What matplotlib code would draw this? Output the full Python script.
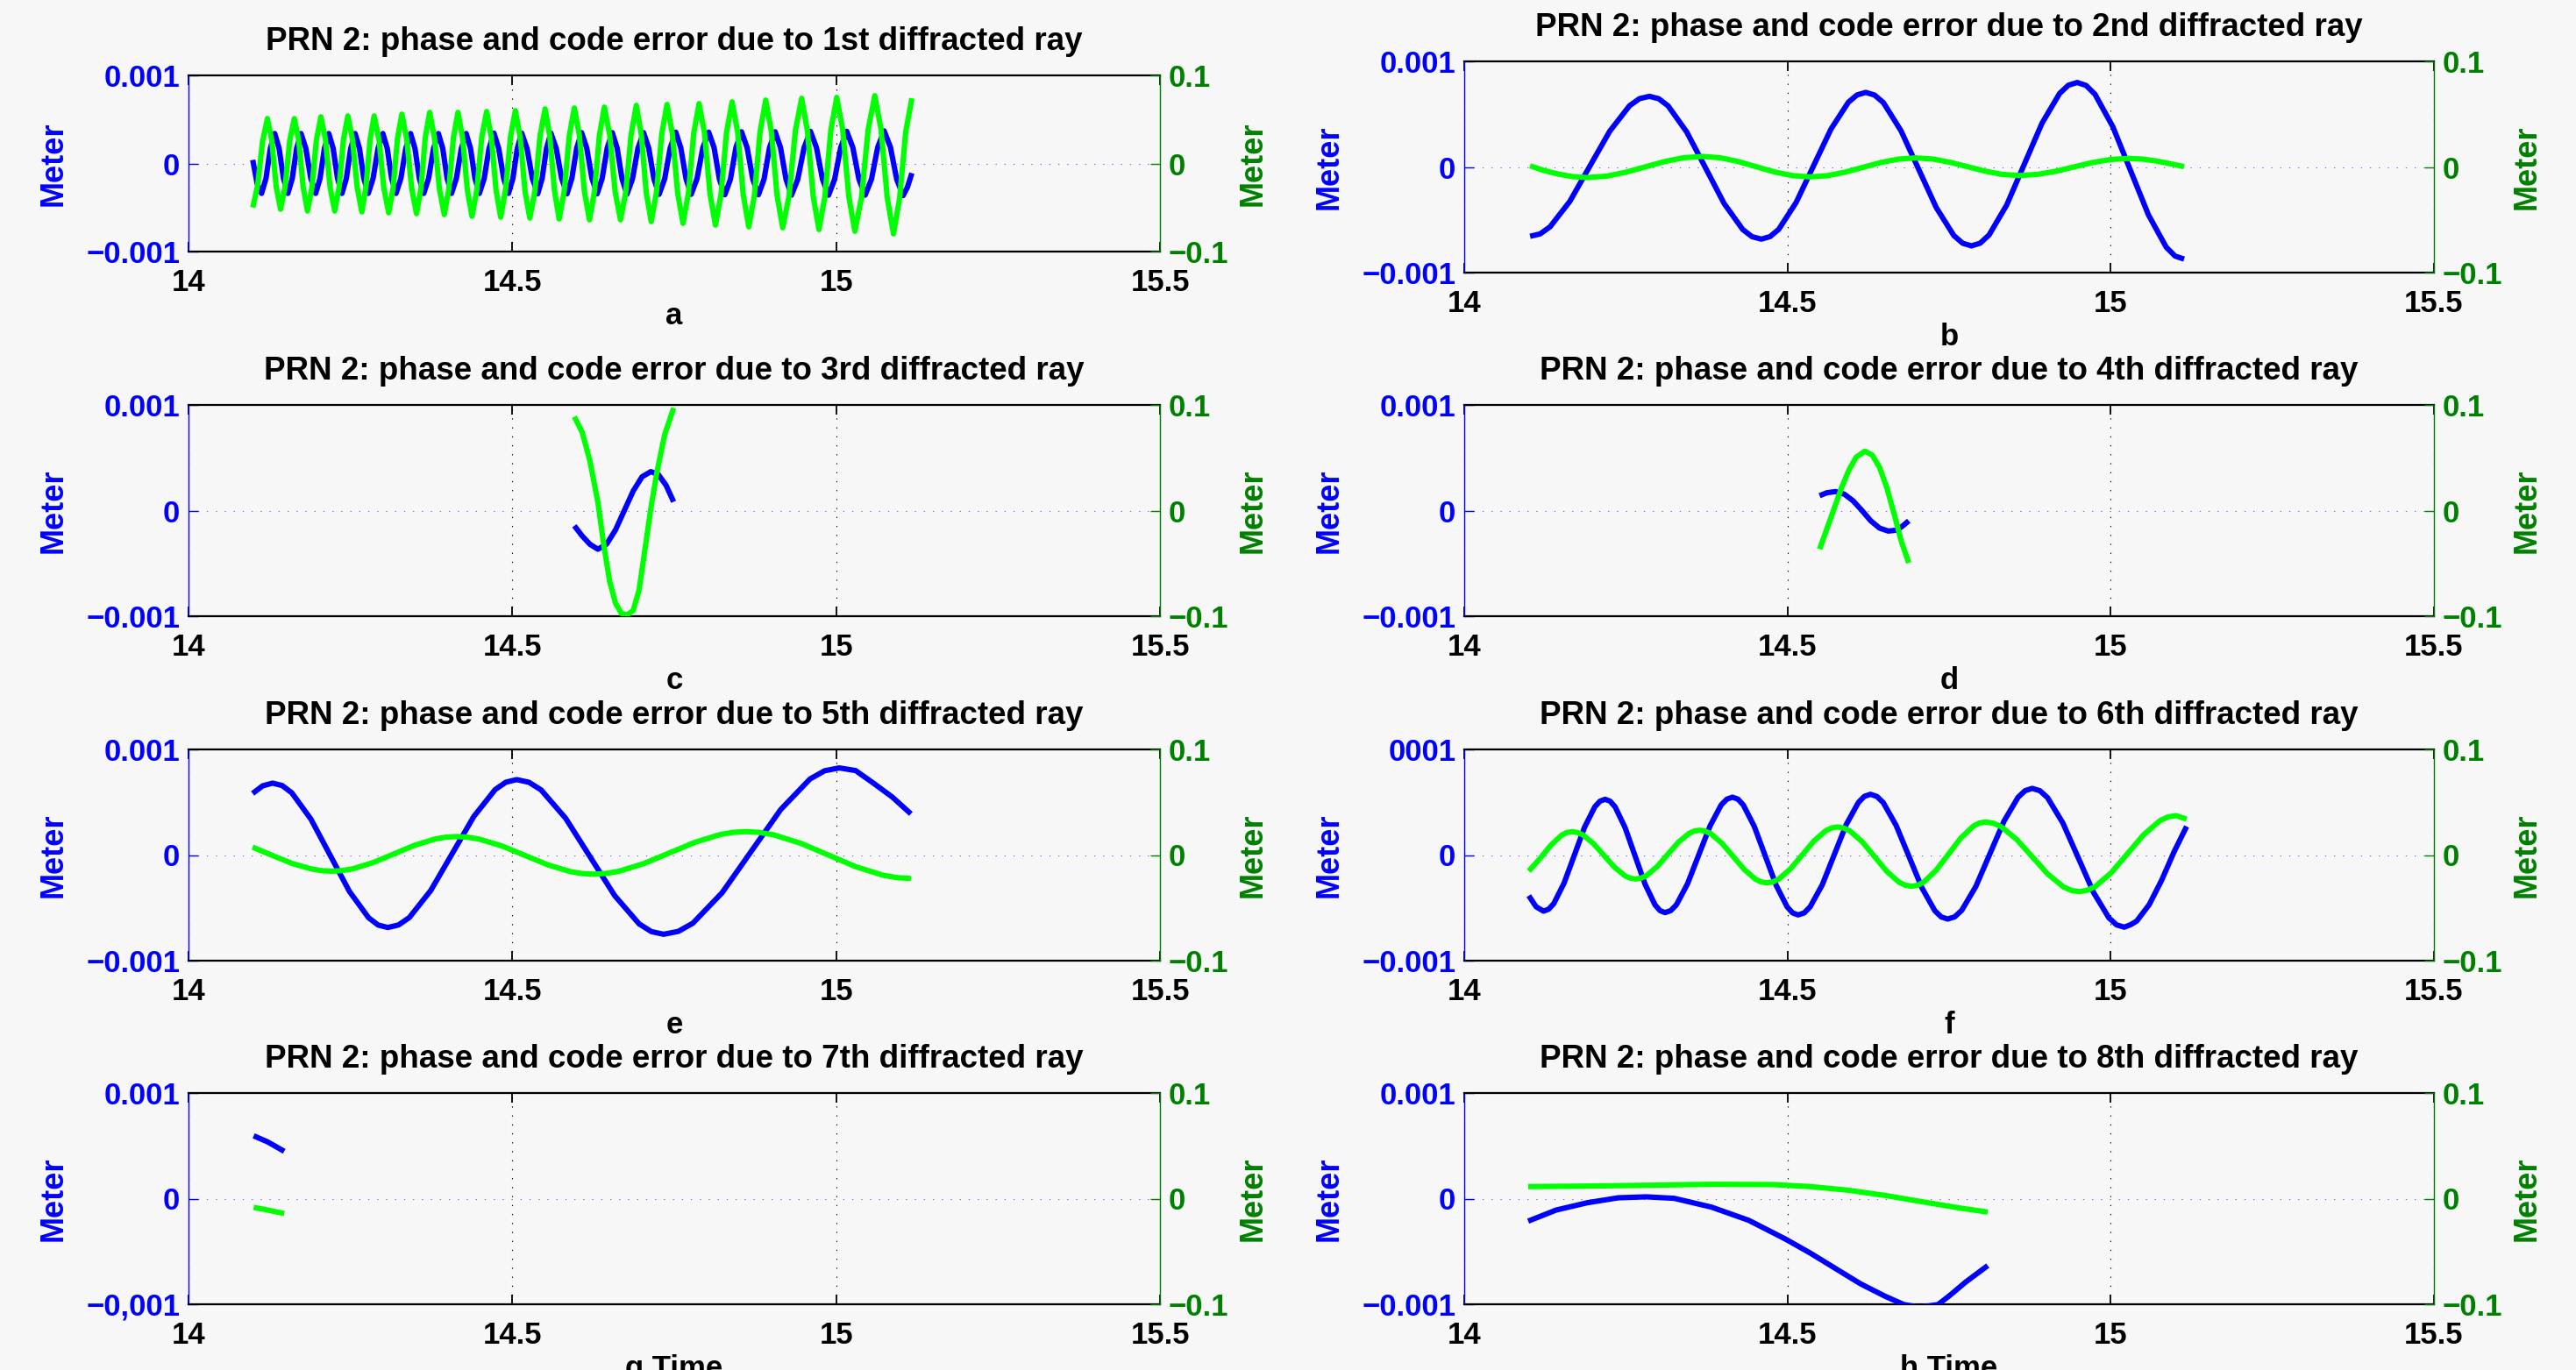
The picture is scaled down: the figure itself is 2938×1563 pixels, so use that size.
import matplotlib
matplotlib.use("Agg")
import matplotlib.pyplot as plt
import numpy as np

plt.rcParams['font.family'] = ['Liberation Sans', 'DejaVu Sans']
plt.rcParams['font.weight'] = 'bold'
plt.rcParams['axes.titleweight'] = 'bold'
plt.rcParams['axes.labelweight'] = 'bold'
plt.rcParams['axes.unicode_minus'] = True

# ---------------- data ----------------
titles = ["PRN 2: phase and code error due to 1st diffracted ray",
          "PRN 2: phase and code error due to 2nd diffracted ray",
          "PRN 2: phase and code error due to 3rd diffracted ray",
          "PRN 2: phase and code error due to 4th diffracted ray",
          "PRN 2: phase and code error due to 5th diffracted ray",
          "PRN 2: phase and code error due to 6th diffracted ray",
          "PRN 2: phase and code error due to 7th diffracted ray",
          "PRN 2: phase and code error due to 8th diffracted ray"]
xlabels = ["a", "b", "c", "d", "e", "f", "g Time", "h Time"]
xticks = [14, 14.5, 15, 15.5]
xtick_labels = ["14", "14.5", "15", "15.5"]
left_ticks = [-0.001, 0, 0.001]
left_labels_std = ["\u22120.001", "0", "0.001"]
left_labels_f = ["\u22120.001", "0", "0001"]
left_labels_g = ["\u22120,001", "0", "0.001"]
right_ticks = [-0.1, 0, 0.1]
right_labels = ["\u22120.1", "0", "0.1"]

# phase error (blue, left axis) in units of 1e-4 m ; code error (green, right axis) in units of 1e-2 m
phase_a = [(14.0992, 0.4), (14.1060, -2.3), (14.1128, -3.4),
           (14.1196, -1.7), (14.1263, 1.7), (14.1331, 3.4),
           (14.1399, 1.7), (14.1466, -1.7), (14.1534, -3.4),
           (14.1602, -1.7), (14.1669, 1.7), (14.1737, 3.4),
           (14.1812, 1.7), (14.1888, -1.7), (14.1963, -3.4),
           (14.2031, -1.7), (14.2098, 1.7), (14.2166, 3.4),
           (14.2234, 1.7), (14.2301, -1.7), (14.2369, -3.4),
           (14.2437, -1.7), (14.2504, 1.7), (14.2572, 3.4),
           (14.2640, 1.7), (14.2707, -1.7), (14.2775, -3.4),
           (14.2850, -1.7), (14.2926, 1.7), (14.3001, 3.4),
           (14.3069, 1.7), (14.3136, -1.7), (14.3204, -3.4),
           (14.3279, -1.7), (14.3354, 1.7), (14.3429, 3.4),
           (14.3497, 1.7), (14.3564, -1.7), (14.3632, -3.4),
           (14.3707, -1.7), (14.3783, 1.7), (14.3858, 3.4),
           (14.3926, 1.7), (14.3993, -1.7), (14.4061, -3.4),
           (14.4136, -1.7), (14.4212, 1.7), (14.4287, 3.4),
           (14.4355, 1.7), (14.4423, -1.7), (14.4491, -3.4),
           (14.4566, -1.7), (14.4640, 1.7), (14.4715, 3.45),
           (14.4790, 1.7), (14.4866, -1.7), (14.4941, -3.4),
           (14.5009, -1.7), (14.5076, 1.7), (14.5144, 3.45),
           (14.5227, 1.7), (14.5309, -1.7), (14.5392, -3.45),
           (14.5460, -1.7), (14.5527, 1.7), (14.5595, 3.45),
           (14.5678, 1.7), (14.5761, -1.7), (14.5844, -3.45),
           (14.5919, -1.7), (14.5994, 1.75), (14.6069, 3.5),
           (14.6149, 1.75), (14.6229, -1.7), (14.6309, -3.45),
           (14.6387, -1.7), (14.6465, 1.75), (14.6543, 3.5),
           (14.6618, 1.75), (14.6694, -1.75), (14.6769, -3.5),
           (14.6855, -1.75), (14.6940, 1.75), (14.7026, 3.5),
           (14.7106, 1.75), (14.7186, -1.75), (14.7266, -3.5),
           (14.7352, -1.75), (14.7437, 1.75), (14.7523, 3.55),
           (14.7602, 1.75), (14.7682, -1.75), (14.7761, -3.5),
           (14.7851, -1.75), (14.7942, 1.8), (14.8032, 3.55),
           (14.8115, 1.8), (14.8198, -1.8), (14.8281, -3.55),
           (14.8367, -1.8), (14.8452, 1.8), (14.8538, 3.6),
           (14.8625, 1.8), (14.8713, -1.8), (14.8800, -3.55),
           (14.8886, -1.8), (14.8971, 1.8), (14.9057, 3.6),
           (14.9141, 1.8), (14.9226, -1.8), (14.9310, -3.6),
           (14.9407, -1.8), (14.9505, 1.8), (14.9602, 3.65),
           (14.9696, 1.8), (14.9789, -1.8), (14.9883, -3.6),
           (14.9976, -1.8), (15.0070, 1.8), (15.0163, 3.65),
           (15.0258, 1.8), (15.0352, -1.8), (15.0447, -3.6),
           (15.0545, -1.8), (15.0642, 1.85), (15.0740, 3.7),
           (15.0838, 1.85), (15.0935, -1.8), (15.1033, -3.65),
           (15.1100, -2.7), (15.1169, -1.1)]

code_a = [(14.0992, -5.0), (14.1067, -2.5), (14.1143, 2.5), (14.1218, 5.1),
          (14.1286, 2.6), (14.1353, -2.6), (14.1421, -5.2),
          (14.1492, -2.6), (14.1563, 2.6), (14.1634, 5.1),
          (14.1702, 2.6), (14.1769, -2.6), (14.1837, -5.4),
          (14.1906, -2.7), (14.1975, 2.7), (14.2044, 5.3),
          (14.2115, 2.7), (14.2186, -2.7), (14.2257, -5.4),
          (14.2325, -2.7), (14.2392, 2.7), (14.2460, 5.4),
          (14.2532, 2.7), (14.2604, -2.7), (14.2676, -5.5),
          (14.2739, -2.7), (14.2803, 2.7), (14.2866, 5.4),
          (14.2941, 2.7), (14.3016, -2.8), (14.3091, -5.6),
          (14.3159, -2.8), (14.3226, 2.8), (14.3294, 5.6),
          (14.3369, 2.8), (14.3445, -2.8), (14.3520, -5.7),
          (14.3588, -2.9), (14.3655, 2.9), (14.3723, 5.8),
          (14.3798, 2.9), (14.3874, -2.9), (14.3949, -5.8),
          (14.4019, -2.9), (14.4090, 2.9), (14.4160, 5.8),
          (14.4232, 2.9), (14.4305, -3.0), (14.4377, -6.0),
          (14.4452, -3.0), (14.4528, 3.0), (14.4603, 5.9),
          (14.4675, 3.0), (14.4748, -3.0), (14.4820, -6.1),
          (14.4895, -3.0), (14.4971, 3.0), (14.5046, 6.0),
          (14.5121, 3.0), (14.5195, -3.1), (14.5270, -6.2),
          (14.5349, -3.1), (14.5427, 3.1), (14.5506, 6.2),
          (14.5578, 3.1), (14.5651, -3.1), (14.5723, -6.3),
          (14.5801, -3.15), (14.5879, 3.15), (14.5957, 6.3),
          (14.6035, 3.2), (14.6113, -3.2), (14.6191, -6.4),
          (14.6268, -3.2), (14.6344, 3.2), (14.6421, 6.4),
          (14.6504, 3.2), (14.6587, -3.2), (14.6670, -6.4),
          (14.6751, -3.25), (14.6833, 3.25), (14.6914, 6.6),
          (14.6991, 3.3), (14.7067, -3.3), (14.7144, -6.6),
          (14.7225, -3.3), (14.7307, 3.35), (14.7388, 6.7),
          (14.7470, 3.4), (14.7553, -3.4), (14.7635, -6.8),
          (14.7718, -3.4), (14.7800, 3.4), (14.7883, 6.8),
          (14.7967, 3.45), (14.8052, -3.45), (14.8136, -7.0),
          (14.8222, -3.5), (14.8307, 3.5), (14.8393, 7.0),
          (14.8479, 3.55), (14.8565, -3.55), (14.8651, -7.2),
          (14.8738, -3.6), (14.8825, 3.6), (14.8912, 7.2),
          (14.9000, 3.6), (14.9087, -3.6), (14.9175, -7.3),
          (14.9272, -3.7), (14.9370, 3.7), (14.9467, 7.4),
          (14.9556, 3.7), (14.9645, -3.7), (14.9734, -7.5),
          (14.9826, -3.75), (14.9917, 3.75), (15.0009, 7.5),
          (15.0102, 3.8), (15.0196, -3.8), (15.0289, -7.7),
          (15.0391, -3.85), (15.0494, 3.85), (15.0596, 7.7),
          (15.0692, 3.9), (15.0789, -3.9), (15.0885, -8.0),
          (15.0980, -3.9), (15.1074, 3.6), (15.1169, 7.4)]

phase_b = [(14.1019, -6.56), (14.1173, -6.34), (14.1327, -5.67), (14.1634, -3.25), (14.1942, 0.07), (14.2250, 3.38),
           (14.2557, 5.80), (14.2711, 6.47), (14.2865, 6.69),
           (14.3009, 6.46), (14.3154, 5.78), (14.3442, 3.31), (14.3731, -0.07), (14.4019, -3.45), (14.4308, -5.92),
           (14.4452, -6.60), (14.4596, -6.83),
           (14.4731, -6.59), (14.4865, -5.90), (14.5134, -3.36), (14.5404, 0.12), (14.5673, 3.59), (14.5942, 6.13),
           (14.6076, 6.82), (14.6211, 7.06),
           (14.6347, 6.81), (14.6484, 6.09), (14.6756, 3.43), (14.7029, -0.21), (14.7301, -3.84), (14.7574, -6.50),
           (14.7710, -7.22), (14.7846, -7.47),
           (14.7982, -7.21), (14.8119, -6.43), (14.8391, -3.60), (14.8664, 0.27), (14.8936, 4.13), (14.9209, 6.96),
           (14.9345, 7.74), (14.9481, 8.0),
           (14.9619, 7.72), (14.9757, 6.88), (15.0032, 3.82), (15.0308, -0.36), (15.0584, -4.54), (15.0859, -7.60),
           (15.0997, -8.44), (15.1135, -8.72)]

code_b = [(14.1019, 0.11), (14.1240, -0.35), (14.1462, -0.68), (14.1683, -0.92), (14.1904, -1.0),
          (14.2201, -0.87), (14.2497, -0.5), (14.2794, 0.0), (14.3090, 0.5), (14.3387, 0.87), (14.3683, 1.0),
          (14.3960, 0.87), (14.4237, 0.52), (14.4515, 0.03), (14.4792, -0.46), (14.5069, -0.81), (14.5346, -0.94),
          (14.5619, -0.82), (14.5891, -0.49), (14.6164, -0.04), (14.6436, 0.41), (14.6709, 0.74), (14.6981, 0.86),
          (14.7249, 0.75), (14.7516, 0.44), (14.7784, 0.03), (14.8052, -0.39), (14.8319, -0.70), (14.8587, -0.81),
          (14.8867, -0.70), (14.9148, -0.41), (14.9428, 0.0), (14.9708, 0.41), (14.9989, 0.70), (15.0269, 0.81),
          (15.0486, 0.75), (15.0702, 0.57), (15.0919, 0.31), (15.1135, 0.03)]

phase_c = [(14.5957, -1.44), (14.6078, -2.4), (14.6200, -3.2), (14.6321, -3.66),
           (14.6457, -3.17), (14.6594, -1.82), (14.6730, 0.02), (14.6866, 1.85), (14.7003, 3.20), (14.7139, 3.69),
           (14.7256, 3.4), (14.7373, 2.4), (14.7490, 0.83)]

code_c = [(14.5957, 8.88), (14.6078, 7.43), (14.6199, 4.66), (14.6321, 0.78), (14.6411, -3.22),
          (14.6502, -6.69), (14.6593, -8.77), (14.6684, -9.74), (14.6775, -9.88), (14.6866, -9.46),
          (14.6957, -7.52), (14.7048, -3.66), (14.7139, 0.22), (14.7230, 3.55), (14.7351, 7.16), (14.7490, 9.71)]

phase_d = [(14.5497, 1.41), (14.5610, 1.69), (14.5746, 1.80), (14.5881, 1.55), (14.6017, 0.91), (14.6153, 0.0),
           (14.6288, -0.97), (14.6424, -1.66), (14.6559, -1.94), (14.6695, -1.85), (14.6785, -1.44), (14.6876, -0.97)]

code_d = [(14.5497, -3.65), (14.5610, -1.72), (14.5723, 0.22), (14.5836, 2.16), (14.5949, 3.82), (14.6062, 5.06),
          (14.6198, 5.62), (14.6311, 5.26), (14.6424, 4.09), (14.6537, 2.16), (14.6650, -0.33), (14.6763, -2.96),
          (14.6876, -4.95)]

phase_e = [(14.0990, 5.83), (14.1144, 6.55), (14.1298, 6.81),
           (14.1446, 6.58), (14.1595, 5.89), (14.1891, 3.39), (14.2188, -0.03), (14.2484, -3.44), (14.2781, -5.94),
           (14.2929, -6.63), (14.3077, -6.86),
           (14.3243, -6.62), (14.3409, -5.92), (14.3740, -3.36), (14.4072, 0.14), (14.4404, 3.64), (14.4735, 6.20),
           (14.4901, 6.90), (14.5067, 7.14),
           (14.5256, 6.89), (14.5445, 6.16), (14.5823, 3.48), (14.6202, -0.18), (14.6580, -3.84), (14.6958, -6.52),
           (14.7147, -7.25), (14.7336, -7.5),
           (14.7562, -7.23), (14.7788, -6.45), (14.8240, -3.56), (14.8692, 0.38), (14.9144, 4.31), (14.9596, 7.20),
           (14.9822, 7.98), (15.0048, 8.25),
           (15.0300, 8.0), (15.0577, 6.8), (15.0865, 5.5), (15.1154, 3.9)]

code_e = [(14.0990, 0.75), (14.1295, -0.04), (14.1601, -0.80), (14.1906, -1.33), (14.2058, -1.48), (14.2211, -1.53),
          (14.2371, -1.47), (14.2532, -1.31), (14.2852, -0.71), (14.3173, 0.11), (14.3493, 0.93), (14.3814, 1.53),
          (14.3974, 1.69), (14.4134, 1.75),
          (14.4310, 1.69), (14.4487, 1.51), (14.4839, 0.86), (14.5192, -0.03), (14.5545, -0.92), (14.5897, -1.57),
          (14.6074, -1.75), (14.6250, -1.81),
          (14.6446, -1.74), (14.6643, -1.54), (14.7035, -0.80), (14.7428, 0.21), (14.7821, 1.21), (14.8213, 1.95),
          (14.8410, 2.15), (14.8606, 2.22),
          (14.8818, 2.14), (14.9031, 1.92), (14.9455, 1.11), (14.9880, 0.0), (15.0305, -1.11), (15.0729, -1.92),
          (15.0942, -2.14), (15.1154, -2.22)]

phase_f = [(14.0998, -3.85), (14.1112, -4.9), (14.1226, -5.31),
           (14.1305, -5.13), (14.1385, -4.60), (14.1544, -2.66), (14.1703, -0.02), (14.1861, 2.63), (14.2020, 4.57),
           (14.2100, 5.10), (14.2179, 5.28),
           (14.2256, 5.10), (14.2334, 4.56), (14.2488, 2.60), (14.2643, -0.09), (14.2798, -2.77), (14.2952, -4.73),
           (14.3030, -5.27), (14.3107, -5.45),
           (14.3194, -5.26), (14.3281, -4.72), (14.3454, -2.72), (14.3628, 0.02), (14.3802, 2.75), (14.3975, 4.75),
           (14.4062, 5.29), (14.4149, 5.48),
           (14.4234, 5.29), (14.4318, 4.73), (14.4488, 2.69), (14.4657, -0.10), (14.4826, -2.88), (14.4996, -4.92),
           (14.5080, -5.48), (14.5165, -5.67),
           (14.5258, -5.48), (14.5351, -4.90), (14.5538, -2.82), (14.5724, 0.04), (14.5910, 2.90), (14.6097, 4.98),
           (14.6190, 5.56), (14.6283, 5.75),
           (14.6383, 5.55), (14.6482, 4.96), (14.6681, 2.80), (14.6881, -0.16), (14.7080, -3.11), (14.7279, -5.27),
           (14.7378, -5.86), (14.7478, -6.06),
           (14.7587, -5.85), (14.7696, -5.23), (14.7914, -2.97), (14.8132, 0.13), (14.8350, 3.22), (14.8568, 5.48),
           (14.8677, 6.10), (14.8786, 6.31),
           (14.8905, 6.09), (14.9023, 5.43), (14.9260, 3.03), (14.9498, -0.26), (14.9735, -3.55), (14.9972, -5.95),
           (15.0090, -6.61), (15.0209, -6.83),
           (15.0306, -6.6), (15.0402, -6.25), (15.0595, -4.70), (15.0788, -2.38), (15.0981, 0.32), (15.1174, 2.71)]

code_f = [(14.0998, -1.52), (14.1167, -0.37), (14.1335, 0.90), (14.1504, 1.87), (14.1588, 2.14), (14.1672, 2.21),
          (14.1754, 2.13), (14.1835, 1.91), (14.1998, 1.09), (14.2161, -0.03), (14.2324, -1.15), (14.2487, -1.97),
          (14.2569, -2.19), (14.2650, -2.27),
          (14.2733, -2.19), (14.2815, -1.96), (14.2980, -1.12), (14.3145, 0.04), (14.3310, 1.20), (14.3475, 2.04),
          (14.3558, 2.27), (14.3640, 2.35),
          (14.3727, 2.27), (14.3814, 2.02), (14.3987, 1.11), (14.4161, -0.14), (14.4335, -1.39), (14.4508, -2.30),
          (14.4595, -2.55), (14.4682, -2.63),
          (14.4773, -2.54), (14.4864, -2.28), (14.5046, -1.31), (14.5229, 0.02), (14.5411, 1.34), (14.5593, 2.31),
          (14.5684, 2.57), (14.5775, 2.66),
          (14.5870, 2.56), (14.5966, 2.28), (14.6156, 1.26), (14.6347, -0.15), (14.6538, -1.56), (14.6728, -2.58),
          (14.6824, -2.86), (14.6919, -2.96),
          (14.7014, -2.86), (14.7110, -2.55), (14.7300, -1.44), (14.7491, 0.09), (14.7681, 1.61), (14.7872, 2.72),
          (14.7967, 3.03), (14.8062, 3.13),
          (14.8183, 3.02), (14.8304, 2.69), (14.8545, 1.48), (14.8787, -0.17), (14.9028, -1.81), (14.9270, -3.02),
          (14.9390, -3.35), (14.9511, -3.46),
          (14.9636, -3.34), (14.9761, -2.98), (15.0011, -1.66), (15.0261, 0.14), (15.0510, 1.93), (15.0760, 3.25),
          (15.0885, 3.61), (15.1010, 3.73),
          (15.1174, 3.40)]

phase_g = [(14.1006, 5.95), (14.1223, 5.37), (14.1478, 4.48)]
code_g = [(14.1006, -0.83), (14.1159, -1.0), (14.1478, -1.41)]

phase_h = [(14.0989, -2.13), (14.1422, -1.08), (14.1902, -0.39), (14.2382, 0.08), (14.2815, 0.17), (14.3247, 0.03),
           (14.3823, -0.80), (14.4400, -2.05), (14.4976, -3.85), (14.5360, -5.18), (14.5744, -6.62), (14.6129, -8.06),
           (14.6513, -9.25), (14.6801, -10.03), (14.7041, -10.28), (14.7329, -10.03), (14.7521, -9.11),
           (14.7762, -7.87), (14.8098, -6.34)]
code_h = [(14.0989, 1.14), (14.1902, 1.19), (14.2863, 1.27), (14.3823, 1.36), (14.4784, 1.33), (14.5360, 1.14),
          (14.5937, 0.80), (14.6513, 0.30), (14.7089, -0.30), (14.7666, -0.89), (14.8098, -1.27)]

phase_series = [phase_a, phase_b, phase_c, phase_d, phase_e, phase_f, phase_g, phase_h]
code_series = [code_a, code_b, code_c, code_d, code_e, code_f, code_g, code_h]
left_tick_labels = [left_labels_std] * 5 + [left_labels_f, left_labels_g, left_labels_std]

# ---------------- styling / layout ----------------
W, H = 2938, 1563
BG = '#f7f7f7'
BLUE = '#0000ff'
GREEN = '#00ff00'
DKGREEN = '#008000'
FS = 25
LW = 4.4

# axes boxes in pixels: (left, right, top, bottom)
cols = [(215, 1323), (1670, 2776)]
rows = [(86, 287), (462, 703), (855, 1096), (1247, 1488)]
row1_right = (70, 311)

fig = plt.figure(figsize=(W / 100, H / 100), dpi=100, facecolor=BG)

for i in range(8):
    r, c = divmod(i, 2)
    l, rr = cols[c]
    t, b = rows[r]
    if i == 1:
        t, b = row1_right
    wpx, hpx = rr - l, b - t
    ax = fig.add_axes([l / W, 1 - b / H, wpx / W, hpx / H])
    ax.set_facecolor(BG)

    px, py = zip(*phase_series[i])
    cx, cy = zip(*code_series[i])

    ax.plot(px, np.array(py) * 1e-4, color=BLUE, lw=LW, solid_capstyle='butt', solid_joinstyle='round', zorder=3)
    ax.set_xlim(14, 15.5)
    ax.set_ylim(-0.001, 0.001)
    ax.set_xticks(xticks)
    ax.set_xticklabels(xtick_labels)
    ax.set_yticks(left_ticks)
    ax.set_yticklabels(left_tick_labels[i])
    ax.xaxis.grid(True, color='k', lw=0.8, ls=(0, (1.2, 8)))
    ax.yaxis.grid(True, color='#6a6aff', lw=0.8, ls=(0, (1.2, 8)))

    ax2 = ax.twinx()
    ax2.plot(cx, np.array(cy) * 1e-2, color=GREEN, lw=LW, solid_capstyle='butt', solid_joinstyle='round')
    ax2.set_ylim(-0.1, 0.1)
    ax2.set_yticks(right_ticks)
    ax2.set_yticklabels(right_labels)

    for s in ['top', 'bottom']:
        ax.spines[s].set_color('k')
        ax.spines[s].set_linewidth(1.6)
    ax.spines['left'].set_color(BLUE)
    ax.spines['left'].set_linewidth(1.0)
    ax.spines['right'].set_visible(False)
    for s in ['top', 'bottom', 'left']:
        ax2.spines[s].set_visible(False)
    ax2.spines['right'].set_color(DKGREEN)
    ax2.spines['right'].set_linewidth(1.0)

    ax.tick_params(axis='x', direction='in', length=8, width=1.3, top=True, bottom=True,
                   labelsize=FS, pad=14, colors='k')
    ax.tick_params(axis='y', direction='in', length=8, width=1.0, colors=BLUE,
                   labelsize=FS, pad=7)
    ax2.tick_params(axis='y', direction='in', length=8, width=1.0, colors=DKGREEN,
                    labelsize=FS, pad=7)

    ax.set_title(titles[i], fontsize=26.5, fontweight='bold', pad=21)

    ax.set_xlabel(xlabels[i], fontsize=FS, fontweight='bold')
    ax.xaxis.set_label_coords(0.5, -83 / hpx)
    ax.xaxis.label.set_va('baseline')

    ax.set_ylabel('Meter', color=BLUE, fontsize=26, fontweight='bold')
    ax.yaxis.set_label_coords(-154 / wpx, 0.5)
    ax.yaxis.label.set_va('center')

    ax2.set_ylabel('Meter', color=DKGREEN, fontsize=26, fontweight='bold')
    ax2.yaxis.set_label_coords(1 + 106 / wpx, 0.5)
    ax2.yaxis.label.set_va('center')

fig.savefig('out.png', dpi=100, facecolor=BG)
